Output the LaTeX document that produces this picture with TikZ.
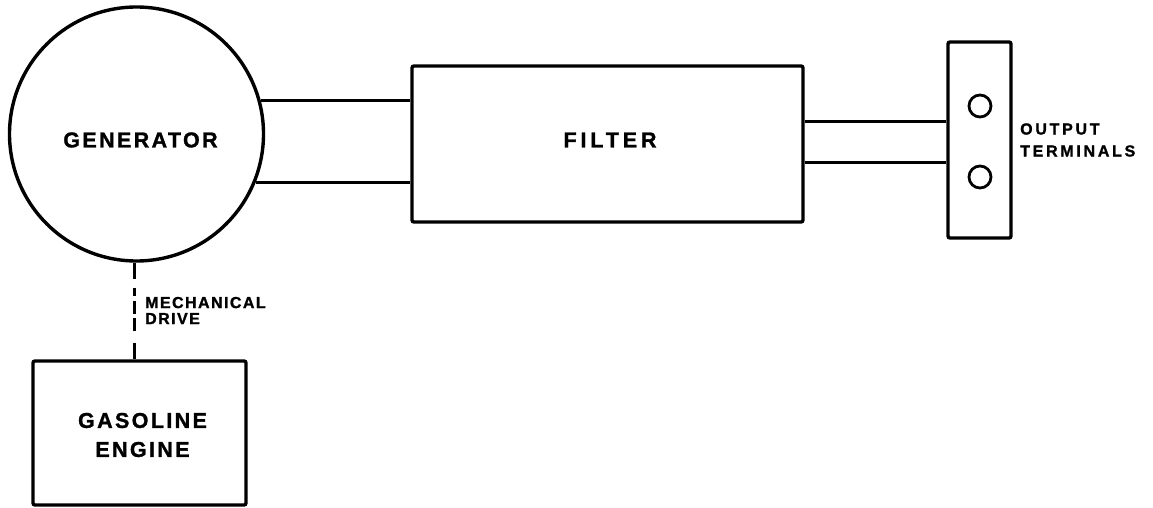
\documentclass[tikz,border=0pt]{standalone}
\usepackage{fontspec}
\setmainfont{Liberation Sans}[BoldFont=* Bold,BoldFeatures={FakeBold=1.3}]
\begin{document}
\begin{tikzpicture}[x=1pt,y=-1pt,
  blk/.style={draw,line width=3.4pt,rounded corners=2pt,inner sep=0pt},
  wire/.style={line width=3pt},
  bigtxt/.style={font=\fontsize{21.5}{29}\selectfont\bfseries\addfontfeature{LetterSpace=11},inner sep=0pt,align=center},
  smalltxt/.style={font=\fontsize{16}{16}\selectfont\bfseries\addfontfeature{LetterSpace=9},inner sep=0pt,align=left,anchor=west},
  term/.style={circle,draw,line width=2.8pt,minimum size=22pt,inner sep=0pt}]
\useasboundingbox (0,0) rectangle (1153,508);
% generator
\node[circle,draw,line width=3.4pt,minimum size=254pt,inner sep=0pt] (gen) at (136.5,134) {};
\node[bigtxt] (gentxt) at (140.5,140) {GENERATOR};
% filter
\node[blk,minimum width=391pt,minimum height=156pt] (filt) at (607.5,144) {};
\node[bigtxt,font=\fontsize{21.5}{29}\selectfont\bfseries\addfontfeature{LetterSpace=18}] (filttxt) at (610,140) {FILTER};
% output terminal strip
\node[blk,minimum width=63pt,minimum height=196pt] (strip) at (979.5,140) {};
\node[term] (t1) at (980,106) {};
\node[term] (t2) at (980,177) {};
\node[smalltxt,font=\fontsize{16}{22}\selectfont\bfseries\addfontfeature{LetterSpace=17}] (outtxt) at (1020,140) {OUTPUT\\TERMINALS};
% engine
\node[blk,minimum width=213pt,minimum height=144pt] (eng) at (139.5,433) {};
\node[bigtxt] (engtxt) at (142.5,435) {GASOLINE\\ENGINE};
% connectors generator - filter
\draw[wire] (gen.15.5) -- (gen.15.5 -| filt.west);
\draw[wire] (gen.-22.2) -- (gen.-22.2 -| filt.west);
% connectors filter - terminals
\draw[wire] ([yshift=22pt]filt.east) -- ([yshift=22pt]filt.east -| strip.west);
\draw[wire] ([yshift=-18pt]filt.east) -- ([yshift=-18pt]filt.east -| strip.west);
% mechanical drive
\draw[line width=3pt,dash pattern=on 16pt off 9pt on 8pt off 5pt on 13pt off 4pt on 13pt off 12pt on 20pt] ([xshift=-2pt]gen.south) -- ([xshift=-2pt]gen.south |- eng.north);
\node[smalltxt] (mechtxt) at (145,310.5) {MECHANICAL\\DRIVE};
\end{tikzpicture}
\end{document}
